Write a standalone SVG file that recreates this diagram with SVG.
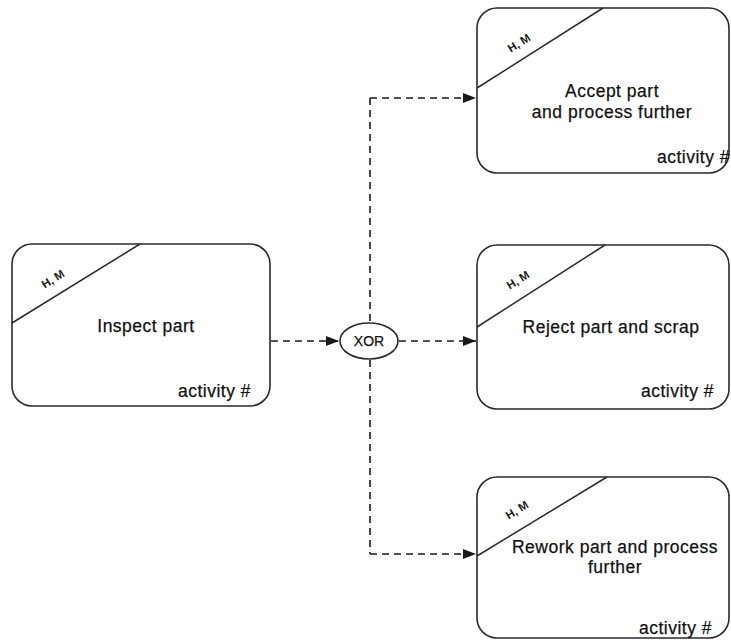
<svg xmlns="http://www.w3.org/2000/svg" width="731" height="642" viewBox="0 0 731 642">
  <defs>
    <marker id="arrow" viewBox="0 0 13 10" refX="13" refY="5" markerWidth="13" markerHeight="10" markerUnits="userSpaceOnUse" orient="auto">
      <path d="M0,0 L13,5 L0,10 Z" fill="#1a1a1a"/>
    </marker>
  </defs>
  <style>
    .box { fill: #ffffff; stroke: #2a2a2a; stroke-width: 1.6; }
    .diag { stroke: #2a2a2a; stroke-width: 1.5; fill: none; }
    .label { font-family: "Liberation Sans", Arial, sans-serif; font-size: 17.5px; fill: #111111; text-anchor: middle; letter-spacing: 0.5px; stroke: #111111; stroke-width: 0.25px; }
    .act { font-family: "Liberation Sans", Arial, sans-serif; font-size: 17.5px; fill: #111111; text-anchor: end; letter-spacing: 0.5px; stroke: #111111; stroke-width: 0.25px; }
    .res { font-family: "Liberation Sans", Arial, sans-serif; font-size: 11.5px; fill: #1a1a1a; text-anchor: middle; font-weight: bold; }
    .conn { stroke: #1a1a1a; stroke-width: 1.6; fill: none; stroke-dasharray: 7 5; }
  </style>

  <rect width="731" height="642" fill="#ffffff"/>

  <!-- connectors -->
  <g id="connectors">
    <line class="conn" x1="271" y1="341" x2="339" y2="341" marker-end="url(#arrow)"/>
    <line class="conn" x1="399" y1="341" x2="476" y2="341" marker-end="url(#arrow)"/>
    <line class="conn" x1="370" y1="98" x2="370" y2="322"/>
    <line class="conn" x1="370" y1="360" x2="370" y2="554"/>
    <line class="conn" x1="370" y1="98" x2="476" y2="98" marker-end="url(#arrow)"/>
    <line class="conn" x1="370" y1="554" x2="476" y2="554" marker-end="url(#arrow)"/>
  </g>

  <!-- Inspect part -->
  <g id="inspect">
    <rect class="box" x="12" y="244" width="258" height="162" rx="20"/>
    <line class="diag" x1="12" y1="323" x2="140" y2="244"/>
    <text class="res" x="53" y="283" transform="rotate(-32 53 279)">H, M</text>
    <text class="label" x="146" y="332">Inspect part</text>
    <text class="act" x="251" y="397">activity #</text>
  </g>

  <!-- XOR gateway -->
  <g id="xor">
    <ellipse cx="369" cy="341" rx="29" ry="18" fill="#ffffff" stroke="#2a2a2a" stroke-width="1.6"/>
    <text x="369" y="346" font-family="Liberation Sans, Arial, sans-serif" font-size="14" fill="#111111" stroke="#111111" stroke-width="0.25" text-anchor="middle">XOR</text>
  </g>

  <!-- Accept part -->
  <g id="accept">
    <rect class="box" x="477" y="8" width="252" height="165" rx="20"/>
    <line class="diag" x1="477" y1="88" x2="603" y2="8"/>
    <text class="res" x="519" y="47" transform="rotate(-32 519 43)">H, M</text>
    <text class="label" x="612" y="97">Accept part</text>
    <text class="label" x="612" y="118">and process further</text>
    <text class="act" x="730" y="163">activity #</text>
  </g>

  <!-- Reject part -->
  <g id="reject">
    <rect class="box" x="477" y="245" width="252" height="164" rx="20"/>
    <line class="diag" x1="477" y1="327" x2="605" y2="245"/>
    <text class="res" x="518" y="284" transform="rotate(-32 518 280)">H, M</text>
    <text class="label" x="611" y="333">Reject part and scrap</text>
    <text class="act" x="714" y="397">activity #</text>
  </g>

  <!-- Rework part -->
  <g id="rework">
    <rect class="box" x="477" y="477" width="252" height="161" rx="20"/>
    <line class="diag" x1="477" y1="556" x2="607" y2="477"/>
    <text class="res" x="517" y="514" transform="rotate(-32 517 510)">H, M</text>
    <text class="label" x="615" y="553">Rework part and process</text>
    <text class="label" x="615" y="573">further</text>
    <text class="act" x="712" y="634">activity #</text>
  </g>
</svg>
